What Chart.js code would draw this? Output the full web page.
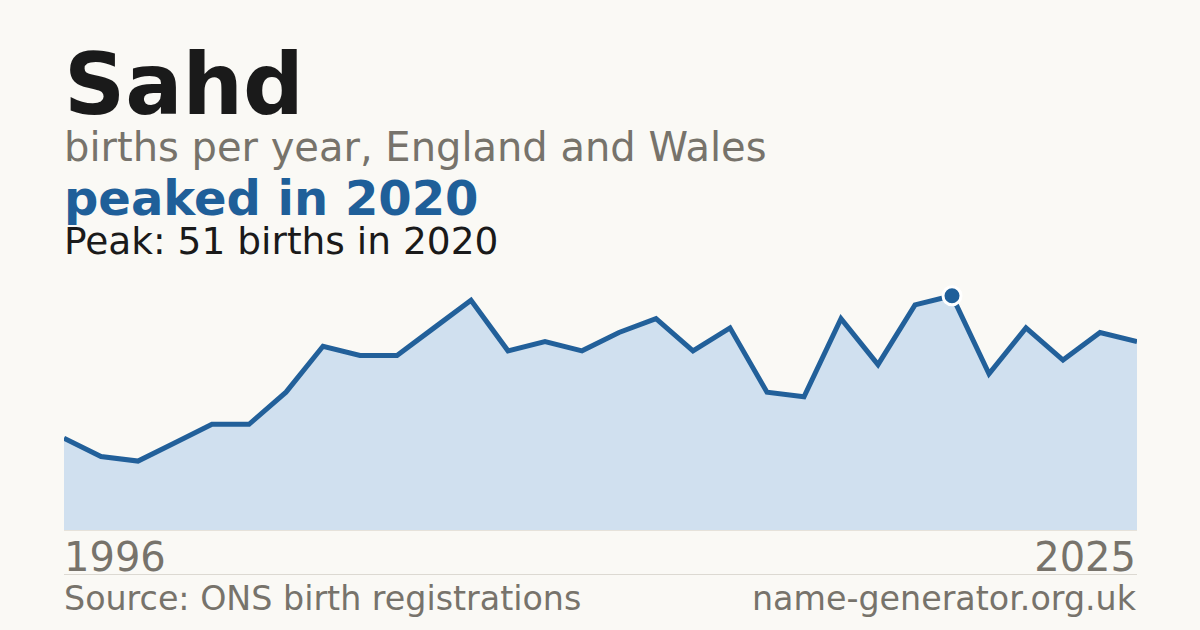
<!DOCTYPE html>
<html>
<head>
<meta charset="utf-8">
<script src="https://cdn.jsdelivr.net/npm/chart.js@4"></script>
<style>
    html, body { margin: 0; padding: 0; }
    body {
        width: 1200px; height: 630px; overflow: hidden;
        background: #faf9f5; position: relative;
        font-family: "DejaVu Sans", sans-serif;
    }
    .txt { position: absolute; line-height: 1; white-space: nowrap; }
    #title { left: 64px; top: 42px; font-size: 85px; font-weight: bold; color: #1a1a1a; }
    #subtitle { left: 64px; top: 127px; font-size: 40px; color: #77736b; }
    #headline { left: 64px; top: 174px; font-size: 48px; font-weight: bold; color: #1f5f99; }
    #peakText { left: 64px; top: 223px; font-size: 37.5px; color: #1a1a1a; }
    #firstYear { left: 64px; top: 537px; font-size: 40px; color: #77736b; }
    #lastYear { right: 64px; top: 537px; font-size: 40px; color: #77736b; }
    #source { left: 64px; top: 582px; font-size: 33.3px; color: #77736b; }
    #site { right: 64px; top: 582px; font-size: 33.3px; color: #77736b; }
    #divider { position: absolute; left: 64px; width: 1073px; top: 574px; height: 1px; background: #dcd9d2; }
    #baseline { position: absolute; left: 64px; width: 1073px; top: 530px; height: 1px; background: #e6e2da; }
    #chartBox { position: absolute; left: 64px; top: 274px; width: 1073px; height: 256px; }
</style>
</head>
<body>
<div class="txt" id="title"></div>
<div class="txt" id="subtitle"></div>
<div class="txt" id="headline"></div>
<div class="txt" id="peakText"></div>
<div id="chartBox"><canvas id="nameChart"></canvas></div>
<div id="baseline"></div>
<div class="txt" id="firstYear"></div>
<div class="txt" id="lastYear"></div>
<div id="divider"></div>
<div class="txt" id="source"></div>
<div class="txt" id="site"></div>

<script>
// Données : naissances par an
const name = 'Sahd';
const years = [1996, 1997, 1998, 1999, 2000, 2001, 2002, 2003, 2004, 2005,
               2006, 2007, 2008, 2009, 2010, 2011, 2012, 2013, 2014, 2015,
               2016, 2017, 2018, 2019, 2020, 2021, 2022, 2023, 2024, 2025];
const births = [20, 16, 15, 19, 23, 23, 30, 40, 38, 38,
                44, 50, 39, 41, 39, 43, 46, 39, 44, 30,
                29, 46, 36, 49, 51, 34, 44, 37, 43, 41];

const peakValue = Math.max(...births);
const peakIndex = births.indexOf(peakValue);
const peakYear = years[peakIndex];

// --- Textes ---
document.getElementById('title').textContent = name;
document.getElementById('subtitle').textContent = 'births per year, England and Wales';
document.getElementById('headline').textContent = `peaked in ${peakYear}`;
document.getElementById('peakText').textContent = `Peak: ${peakValue} births in ${peakYear}`;
document.getElementById('firstYear').textContent = years[0];
document.getElementById('lastYear').textContent = years[years.length - 1];
document.getElementById('source').textContent = 'Source: ONS birth registrations';
document.getElementById('site').textContent = 'name-generator.org.uk';

// --- Graphique ---
const ctx = document.getElementById('nameChart').getContext('2d');
new Chart(ctx, {
    type: 'line',
    data: {
        labels: years,
        datasets: [{
            data: births,
            borderColor: '#22609a',
            borderWidth: 5,
            backgroundColor: '#d0e0ef',
            fill: 'origin',
            tension: 0,
            pointRadius: births.map((v, i) => i === peakIndex ? 9 : 0),
            pointBackgroundColor: '#1f5f99',
            pointBorderColor: '#ffffff',
            pointBorderWidth: 3,
            clip: false
        }]
    },
    options: {
        responsive: true,
        maintainAspectRatio: false,
        animation: false,
        layout: { padding: { top: 10 } },
        plugins: { legend: { display: false }, tooltip: { enabled: false } },
        scales: {
            x: { display: false, offset: false },
            y: { display: false, min: 0, max: peakValue * 1.05 }
        }
    }
});
</script>
</body>
</html>
